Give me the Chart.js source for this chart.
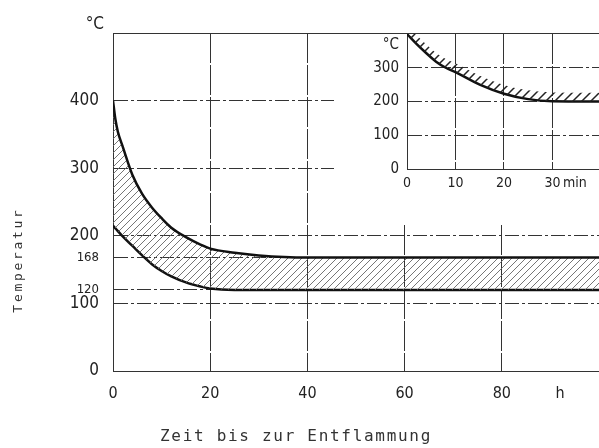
<!DOCTYPE html>
<html>
<head>
<meta charset="utf-8">
<script src="https://cdn.jsdelivr.net/npm/chart.js@4.4.0/dist/chart.umd.min.js"></script>
<style>
body { margin: 0; background: #fff; }
#wrap { position: relative; width: 599px; height: 448px; overflow: hidden; }
#mainChart { position: absolute; left: 0; top: 0; }
#insetChart { position: absolute; left: 334px; top: 34px; background: #fff; }
</style>
</head>
<body>
<div id="wrap">
<canvas id="mainChart" width="599" height="448"></canvas>
<canvas id="insetChart" width="265" height="190"></canvas>
</div>
<script>
// main chart: time to ignition (h) vs temperature
const hours = [0, 0.5, 1, 2, 4, 6, 8, 10, 12, 15, 18, 20, 25, 30, 40, 60, 80, 100];
const upperTemp = [400, 372, 354, 332, 290, 262, 242, 226, 212, 198, 187, 181, 175, 171, 168, 168, 168, 168];
const lowerTemp = [215, 211, 207, 199, 185, 171, 158, 148, 140, 131, 125, 122, 120, 120, 120, 120, 120, 120];

const mainXTicks = [0, 20, 40, 60, 80, 92];
const mainXLabels = ['0', '20', '40', '60', '80', 'h'];
const mainYTicks = [0, 100, 120, 168, 200, 300, 400, 500];
const mainYLabels = ['0', '100', '120', '168', '200', '300', '400', ''];

// inset: minutes
const minutes = [0, 2, 4, 6, 8, 10, 15, 20, 25, 30, 40];
const insetTemp = [400, 370, 343, 318, 300, 287, 250, 223, 207, 201, 200];

const insetXTicks = [0, 10, 20, 30, 34.6];
const insetXLabels = ['0', '10', '20', '30', 'min'];
const insetYTicks = [0, 100, 200, 300, 367];
const insetYLabels = ['0', '100', '200', '300', '°C'];

const xTitle = 'Zeit bis zur Entflammung';
const yTitle = 'Temperatur';
const unitLabel = '°C';

const numFont = "'DejaVu Sans Condensed', 'Liberation Sans Narrow', 'DejaVu Sans', sans-serif";
const monoFont = "'DejaVu Sans Mono', monospace";

function hatch(size, width, color) {
    const c = document.createElement('canvas');
    c.width = size;
    c.height = size;
    const g = c.getContext('2d');
    g.strokeStyle = color;
    g.lineWidth = width;
    g.beginPath();
    g.moveTo(0, size); g.lineTo(size, 0);
    g.moveTo(-size / 2, size / 2); g.lineTo(size / 2, -size / 2);
    g.moveTo(size / 2, size * 1.5); g.lineTo(size * 1.5, size / 2);
    g.stroke();
    return g.createPattern(c, 'repeat');
}

const pts = (xs, ys) => xs.map((x, i) => ({ x: x, y: ys[i] }));

const titlePlugin = {
    id: 'titles',
    afterDraw(chart) {
        const ctx = chart.ctx;
        ctx.save();
        ctx.fillStyle = '#333';
        ctx.textAlign = 'center';
        ctx.textBaseline = 'middle';
        ctx.font = '16px ' + monoFont;
        ctx.letterSpacing = '1.7px';
        ctx.fillText(xTitle, 296, 437);
        ctx.font = '13px ' + monoFont;
        ctx.letterSpacing = '2.7px';
        ctx.translate(19, 260);
        ctx.rotate(-Math.PI / 2);
        ctx.fillText(yTitle, 0, 0);
        ctx.restore();

        ctx.save();
        ctx.letterSpacing = '0px';
        ctx.fillStyle = '#222';
        ctx.font = '17px ' + numFont;
        ctx.textAlign = 'right';
        ctx.textBaseline = 'middle';
        ctx.fillText(unitLabel, 104, 25);
        ctx.restore();
    }
};

const mainChart = new Chart(document.getElementById('mainChart'), {
    type: 'line',
    data: {
        datasets: [
            {
                data: pts(hours, upperTemp),
                borderColor: '#111',
                borderWidth: 2.5,
                pointRadius: 0,
                cubicInterpolationMode: 'monotone',
                fill: '+1',
                backgroundColor: hatch(7, 0.9, '#666')
            },
            {
                data: pts(hours, lowerTemp),
                borderColor: '#111',
                borderWidth: 2.5,
                pointRadius: 0,
                cubicInterpolationMode: 'monotone',
                fill: false
            }
        ]
    },
    options: {
        responsive: false,
        animation: false,
        layout: { padding: { top: 33, right: 0, bottom: 0, left: 0 } },
        plugins: { legend: { display: false }, tooltip: { enabled: false } },
        scales: {
            x: {
                type: 'linear',
                min: 0,
                max: 100,
                afterBuildTicks: s => { s.ticks = mainXTicks.map(v => ({ value: v })); },
                afterFit: s => { s.height = 77; s.paddingLeft = 0; s.paddingRight = 0; },
                ticks: {
                    autoSkip: false,
                    maxRotation: 0,
                    padding: 13,
                    color: '#222',
                    font: { family: numFont, size: 16 },
                    callback: v => mainXLabels[mainXTicks.indexOf(v)]
                },
                grid: {
                    drawTicks: false,
                    lineWidth: 1,
                    color: c => (c.tick && c.tick.value === 92) ? 'rgba(0,0,0,0)' : '#333'
                },
                border: { display: true, color: '#333', width: 1, dash: [30, 2] }
            },
            y: {
                type: 'linear',
                min: 0,
                max: 500,
                afterBuildTicks: s => { s.ticks = mainYTicks.map(v => ({ value: v })); },
                afterFit: s => { s.width = 113; },
                ticks: {
                    autoSkip: false,
                    padding: 14,
                    color: '#222',
                    font: c => ({ family: numFont, size: (c.tick && (c.tick.value === 120 || c.tick.value === 168)) ? 13 : 17 }),
                    callback: v => mainYLabels[mainYTicks.indexOf(v)]
                },
                grid: { drawTicks: false, lineWidth: 1, color: '#333' },
                border: {
                    display: true,
                    color: '#333',
                    width: 1,
                    dash: c => (c.tick && c.tick.value === 500) ? [] : [14, 3, 3, 3]
                }
            }
        }
    },
    plugins: [titlePlugin]
});

const insetChart = new Chart(document.getElementById('insetChart'), {
    type: 'line',
    data: {
        datasets: [
            {
                data: pts(minutes, insetTemp.map(t => t + 26)),
                borderWidth: 0,
                borderColor: 'rgba(0,0,0,0)',
                pointRadius: 0,
                cubicInterpolationMode: 'monotone',
                fill: '+1',
                backgroundColor: hatch(9, 1.5, '#222')
            },
            {
                data: pts(minutes, insetTemp),
                borderColor: '#111',
                borderWidth: 2.5,
                pointRadius: 0,
                cubicInterpolationMode: 'monotone',
                fill: false
            }
        ]
    },
    options: {
        responsive: false,
        animation: false,
        layout: { padding: 0 },
        plugins: { legend: { display: false }, tooltip: { enabled: false } },
        scales: {
            x: {
                type: 'linear',
                min: 0,
                max: 39.6,
                afterBuildTicks: s => { s.ticks = insetXTicks.map(v => ({ value: v })); },
                afterFit: s => { s.height = 55; s.paddingLeft = 0; s.paddingRight = 0; },
                ticks: {
                    autoSkip: false,
                    maxRotation: 0,
                    padding: 6,
                    color: '#222',
                    font: { family: numFont, size: 14 },
                    callback: v => insetXLabels[insetXTicks.indexOf(v)]
                },
                grid: {
                    drawTicks: false,
                    lineWidth: 1,
                    color: c => (c.tick && c.tick.value === 34.6) ? 'rgba(0,0,0,0)' : '#333'
                },
                border: { display: true, color: '#333', width: 1, dash: [30, 2] }
            },
            y: {
                type: 'linear',
                min: 0,
                max: 400,
                afterBuildTicks: s => { s.ticks = insetYTicks.map(v => ({ value: v })); },
                afterFit: s => { s.width = 73; s.paddingTop = 0; s.paddingBottom = 0; },
                ticks: {
                    autoSkip: false,
                    padding: 8,
                    color: '#222',
                    font: { family: numFont, size: 15 },
                    callback: v => insetYLabels[insetYTicks.indexOf(v)]
                },
                grid: {
                    drawTicks: false,
                    lineWidth: 1,
                    color: c => (c.tick && c.tick.value === 367) ? 'rgba(0,0,0,0)' : '#333'
                },
                border: { display: true, color: '#333', width: 1, dash: [14, 3, 3, 3] }
            }
        }
    }
});
</script>
</body>
</html>
